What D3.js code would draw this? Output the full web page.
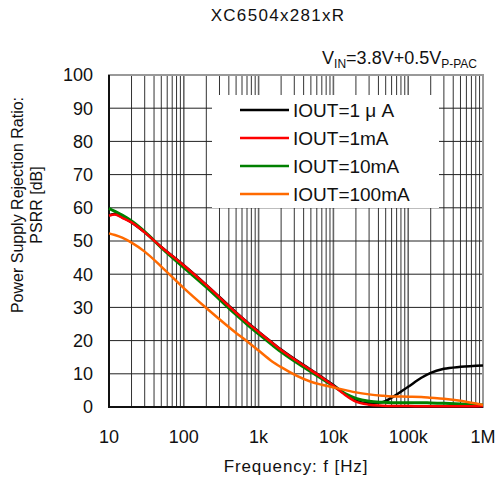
<!DOCTYPE html>
<html>
<head>
<meta charset="utf-8">
<script src="https://cdn.jsdelivr.net/npm/d3@7"></script>
<style>
  body { margin: 0; background: #fff; }
  text { font-family: "Liberation Sans", Arial, sans-serif; fill: #111; }
</style>
</head>
<body>
<div id="chart"></div>
<script>
// frequency points shared by all four curves (Hz)
const freqs = [10, 12, 15, 20, 30, 50, 100, 200, 500, 700, 1e3, 1.5e3, 2e3, 5e3, 7e3, 1e4, 1.5e4, 2e4, 3e4, 4.5e4, 6e4, 1e5, 1.5e5, 2e5, 3e5, 5e5, 1e6];

// PSRR in dB
const psrr1uA   = [57.8, 58.1, 57.2, 55.6, 52.6, 48.2, 42.7, 36.8, 28.5, 25.6, 22.7, 19.5, 17.3, 11.2, 9.0, 6.6, 3.6, 1.9, 1.1, 1.4, 2.8, 6.1, 8.8, 10.3, 11.5, 12.1, 12.5];
const psrr1mA   = [57.6, 58.0, 57.0, 55.6, 52.6, 48.2, 42.6, 36.7, 28.4, 25.5, 22.6, 19.4, 17.2, 11.1, 8.9, 6.4, 3.3, 1.6, 0.7, 0.4, 0.3, 0.3, 0.2, 0.2, 0.2, 0.2, 0.3];
const psrr10mA  = [59.8, 58.9, 57.8, 56.0, 52.8, 48.0, 42.0, 36.1, 27.8, 24.9, 22.0, 18.8, 16.6, 10.6, 8.5, 6.3, 3.8, 2.6, 1.7, 1.4, 1.3, 1.3, 1.3, 1.2, 1.1, 0.9, 0.6];
const psrr100mA = [52.3, 51.8, 51.0, 49.5, 46.8, 42.3, 35.8, 29.8, 22.3, 19.8, 17.0, 13.8, 12.0, 7.6, 6.7, 5.9, 5.0, 4.4, 3.8, 3.4, 3.2, 3.1, 3.0, 2.8, 2.5, 1.9, 0.6];

const seriesNames = ["IOUT=1 μ A", "IOUT=1mA", "IOUT=10mA", "IOUT=100mA"];
const seriesColors = ["#000000", "#ff0000", "#008000", "#ff6a00"];

const xTicks = [10, 100, 1e3, 1e4, 1e5, 1e6];
const xTickLabels = ["10", "100", "1k", "10k", "100k", "1M"];
const yTicks = [0, 10, 20, 30, 40, 50, 60, 70, 80, 90, 100];

let width = 496,
    height = 481;
const margin = {left: 109, right: 13, top: 75, bottom: 74};
const iw = width - margin.left - margin.right,
      ih = height - margin.top - margin.bottom;

const svg = d3.select("#chart")
  .append("svg")
  .attr("width", width)
  .attr("height", height);

const x = d3.scaleLog().domain([10, 1e6]).range([margin.left, margin.left + iw]);
const y = d3.scaleLinear().domain([0, 100]).range([margin.top + ih, margin.top]);

// grid: every 1..9 in each decade
let vlines = [];
for (let d = 10; d < 1e6; d *= 10) {
  for (let k = 2; k <= 9; k++) vlines.push(k * d);
}
svg.append("g").selectAll("line")
  .data(vlines)
  .enter().append("line")
  .attr("x1", d => x(d)).attr("x2", d => x(d))
  .attr("y1", y(0)).attr("y2", y(100))
  .attr("stroke", "#333").attr("stroke-width", 1);
svg.append("g").selectAll("line")
  .data(xTicks.slice(1, -1))
  .enter().append("line")
  .attr("x1", d => x(d)).attr("x2", d => x(d))
  .attr("y1", y(0)).attr("y2", y(100))
  .attr("stroke", "#666").attr("stroke-width", 1.6);
svg.append("g").selectAll("line")
  .data(yTicks.slice(1, -1))
  .enter().append("line")
  .attr("x1", x(10)).attr("x2", x(1e6))
  .attr("y1", d => y(d)).attr("y2", d => y(d))
  .attr("stroke", "#222").attr("stroke-width", 1);

// legend background hides the grid
const lg = {x: 212, y: 95, w: 227, h: 113};
svg.append("rect")
  .attr("x", lg.x).attr("y", lg.y)
  .attr("width", lg.w).attr("height", lg.h)
  .attr("fill", "#fff");

// frame
svg.append("rect")
  .attr("x", x(10)).attr("y", y(100))
  .attr("width", iw).attr("height", ih)
  .attr("fill", "none").attr("stroke", "#999").attr("stroke-width", 2);
svg.append("path")
  .attr("d", "M" + x(10) + "," + y(100) + "V" + y(0) + "H" + x(1e6))
  .attr("fill", "none").attr("stroke", "#111").attr("stroke-width", 2);

// curves
const allSeries = [psrr1uA, psrr1mA, psrr10mA, psrr100mA];
const line = d3.line()
  .x((d, i) => x(freqs[i]))
  .y(d => y(d))
  .curve(d3.curveMonotoneX);
const drawOrder = [0, 2, 1, 3];
drawOrder.forEach(function (s) {
  svg.append("path")
    .datum(allSeries[s])
    .attr("d", line)
    .attr("fill", "none")
    .attr("stroke", seriesColors[s])
    .attr("stroke-width", s == 2 ? 3 : 2.5)
    .attr("stroke-linejoin", "round");
});

// legend
const legend = svg.append("g").selectAll("g")
  .data(seriesNames)
  .enter().append("g")
  .attr("transform", (d, i) => "translate(0," + (110 + i * 28) + ")");
legend.append("line")
  .attr("x1", 240).attr("x2", 289)
  .attr("stroke", (d, i) => seriesColors[i])
  .attr("stroke-width", 2.5);
legend.append("text")
  .attr("x", 293).attr("dy", "0.36em")
  .style("font-size", "19px")
  .text(d => d);

// axis labels
svg.append("g").selectAll("text")
  .data(yTicks)
  .enter().append("text")
  .attr("x", 93).attr("y", d => y(d)).attr("dy", "0.36em")
  .attr("text-anchor", "end")
  .style("font-size", "18px")
  .text(d => d);
svg.append("g").selectAll("text")
  .data(xTicks)
  .enter().append("text")
  .attr("x", d => x(d)).attr("y", 443)
  .attr("text-anchor", "middle")
  .style("font-size", "18px")
  .text((d, i) => xTickLabels[i]);

svg.append("text")
  .attr("x", 296).attr("y", 472)
  .attr("text-anchor", "middle")
  .style("font-size", "17px").style("letter-spacing", "0.9px")
  .text("Frequency: f [Hz]");

const ylab = svg.append("text")
  .attr("transform", "translate(23,205) rotate(-90)")
  .attr("text-anchor", "middle")
  .style("font-size", "16px");
ylab.append("tspan").attr("x", 0).attr("dy", 0).text("Power Supply Rejection Ratio:");
ylab.append("tspan").attr("x", 0).attr("dy", 19).text("PSRR [dB]");

svg.append("text")
  .attr("x", 278).attr("y", 21)
  .attr("text-anchor", "middle")
  .style("font-size", "17px").style("letter-spacing", "1.3px")
  .text("XC6504x281xR");

const cond = svg.append("text")
  .attr("x", 477).attr("y", 64)
  .attr("text-anchor", "end")
  .style("font-size", "18px");
cond.append("tspan").text("V");
cond.append("tspan").attr("dy", 4).style("font-size", "12px").text("IN");
cond.append("tspan").attr("dy", -4).text("=3.8V+0.5V");
cond.append("tspan").attr("dy", 4).style("font-size", "12px").text("P-PAC");
</script>
</body>
</html>
